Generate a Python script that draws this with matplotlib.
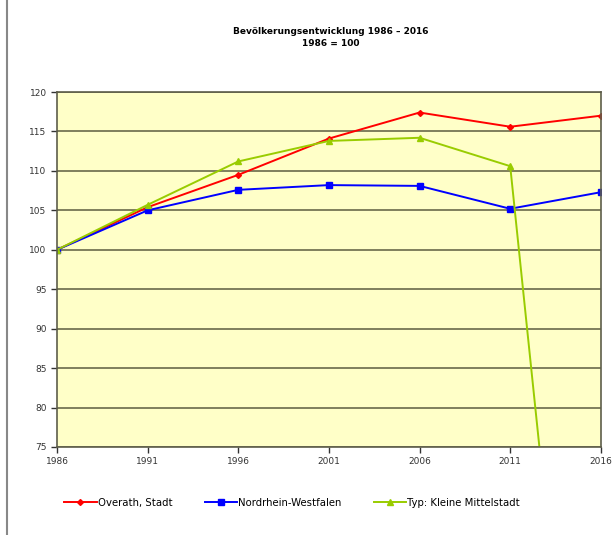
import matplotlib
matplotlib.use("Agg")
import matplotlib.pyplot as plt
from matplotlib.lines import Line2D

years = [1986, 1991, 1996, 2001, 2006, 2011, 2016]
overath = [100, 105.4, 109.5, 114.1, 117.4, 115.6, 117.0]
nrw = [100, 105.0, 107.6, 108.2, 108.1, 105.2, 107.3]
kleine_mittelstadt = [100, 105.7, 111.2, 113.8, 114.2, 110.6, 0]

labels = ["Overath, Stadt", "Nordrhein-Westfalen", "Typ: Kleine Mittelstadt"]
yticks = list(range(75, 121, 5))

fig = plt.figure(figsize=(6.15, 5.35), dpi=100)
ax = fig.add_axes([0.0927, 0.1645, 0.8843, 0.6635])
ax.set_facecolor("#FFFFC8")

ax.plot(years, overath, color="#FF0000", lw=1.4, marker="D", ms=3, label=labels[0])
ax.plot(years, nrw, color="#0000FF", lw=1.4, marker="s", ms=5, label=labels[1])
ax.plot(years, kleine_mittelstadt, color="#99CC00", lw=1.4, marker="^", ms=4, label=labels[2])

ax.set_xlim(1986, 2016)
ax.set_ylim(75, 120)
ax.set_xticks(years)
ax.set_yticks(yticks)
ax.yaxis.grid(True, color="#6A6A4A", lw=1.2)
ax.set_axisbelow(True)
for s in ax.spines.values():
    s.set_color("#5E5E4A")
    s.set_linewidth(1.2)
ax.tick_params(labelsize=6.5, colors="#333333", direction="out", length=4, width=1)

fig.text(0.537, 0.930, "Bevölkerungsentwicklung 1986 – 2016\n1986 = 100",
         ha="center", va="center", fontsize=6.5, fontweight="bold", linespacing=1.4)

handles, _ = ax.get_legend_handles_labels()
fig.legend(handles, labels, loc="center", bbox_to_anchor=(0.475, 0.06), ncol=3,
           frameon=False, fontsize=7.3, columnspacing=3.2, handlelength=3.2,
           handletextpad=0.1)

fig.add_artist(Line2D([0.012, 0.012], [0, 1], transform=fig.transFigure,
                      color="#888888", lw=1.5))

fig.savefig("out.png", dpi=100)
